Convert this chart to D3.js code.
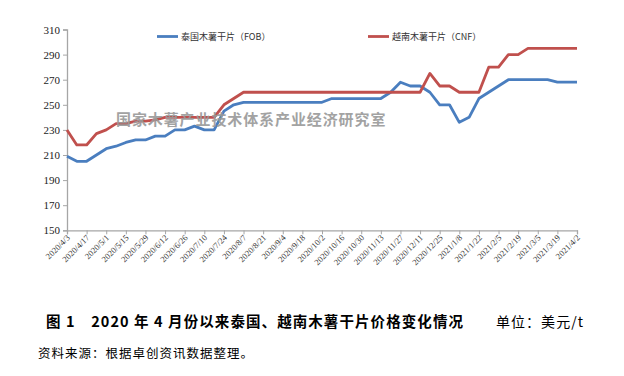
<!DOCTYPE html>
<html>
<head>
<meta charset="utf-8">
<script src="https://cdn.jsdelivr.net/npm/d3@7"></script>
<style>
  body { margin: 0; background: #fff; }
  svg { display: block; }
</style>
</head>
<body>
<svg id="chart" width="624" height="376"></svg>
<script>
// weekly prices, 2020/4/3 .. 2021/4/2 (USD/t)
const startDate = new Date(2020, 3, 3);
const weeks = 53;

const thaiFOB = [209, 205, 205, 210, 215, 217, 220, 222, 222, 225, 225, 230, 230, 233, 230, 230, 245, 250, 252,
  252, 252, 252, 252, 252, 252, 252, 252,
  255, 255, 255, 255, 255, 255,
  260, 268, 265, 265, 260, 250, 250, 236, 240, 255, 260, 265, 270, 270, 270, 270, 270, 268, 268, 268];

const vietCNF = [230, 218, 218, 227, 230, 235, 235, 237, 237, 238, 240, 240, 240, 240, 240, 240, 250, 255, 260,
  260, 260, 260, 260, 260, 260, 260, 260, 260, 260, 260, 260, 260, 260, 260, 260, 260,
  260, 275, 265, 265, 260, 260, 260, 280, 280, 290, 290, 295, 295, 295, 295, 295, 295];

const yTicks = [150, 170, 190, 210, 230, 250, 270, 290, 310];
const seriesNames = ["泰国木薯干片（FOB）", "越南木薯干片（CNF）"];
const colors = ["#4a7ebf", "#c0504d"];

const dates = d3.range(weeks).map(i => d3.timeDay.offset(startDate, i * 7));
const tickDates = dates.filter((d, i) => i % 2 === 0);

const svg = d3.select("#chart");
const margins = { top: 29.5, left: 67, right: 47, bottom: 145.7 };
const width = 624, height = 376;

const x = d3.scaleTime()
  .domain([dates[0], dates[weeks - 1]])
  .range([margins.left, width - margins.right]);

const y = d3.scaleLinear()
  .domain([150, 310])
  .range([height - margins.bottom, margins.top]);

const axisColor = "#a6a6a6";
const serif = "'Liberation Serif', 'Times New Roman', serif";
const cjk = "'Noto Sans CJK SC', sans-serif";

// y axis
const yAxis = svg.append("g")
  .attr("transform", `translate(${margins.left},0)`)
  .call(d3.axisLeft(y).tickValues(yTicks).tickSize(4).tickPadding(3));
yAxis.select(".domain").attr("stroke", axisColor).attr("stroke-width", 1.3);
yAxis.selectAll(".tick line").attr("stroke", axisColor);
yAxis.selectAll(".tick text")
  .attr("font-family", serif)
  .attr("font-size", 11)
  .attr("fill", "#222");

// x axis
const xAxis = svg.append("g")
  .attr("transform", `translate(0,${y(150)})`)
  .call(d3.axisBottom(x).tickValues(tickDates).tickSize(4)
    .tickFormat(d => `${d.getFullYear()}/${d.getMonth() + 1}/${d.getDate()}`));
xAxis.select(".domain").attr("stroke", axisColor).attr("stroke-width", 1.3);
xAxis.selectAll(".tick line").attr("stroke", axisColor);
xAxis.selectAll(".tick text")
  .attr("font-family", serif)
  .attr("font-size", 8.5)
  .attr("fill", "#333")
  .attr("text-anchor", "end")
  .attr("dy", null)
  .attr("y", 0)
  .attr("transform", "translate(3,8) rotate(-45)");

// lines
const line = d3.line()
  .x((d, i) => x(dates[i]))
  .y(d => y(d));

[thaiFOB, vietCNF].forEach((s, k) => {
  svg.append("path")
    .datum(s)
    .attr("fill", "none")
    .attr("stroke", colors[k])
    .attr("stroke-width", 2.8)
    .attr("stroke-linejoin", "round")
    .attr("d", line);
});

// watermark (sits on top of the lines)
svg.append("text")
  .attr("x", 116)
  .attr("y", 125)
  .attr("font-family", cjk)
  .attr("font-weight", "bold")
  .attr("font-size", 15)
  .attr("letter-spacing", 0.9)
  .attr("fill", "#999")
  .attr("opacity", 0.9)
  .text("国家木薯产业技术体系产业经济研究室");

// legend
const legendX = [157, 368];
seriesNames.forEach((name, k) => {
  const g = svg.append("g").attr("transform", `translate(${legendX[k]},36.5)`);
  g.append("line")
    .attr("x1", 0).attr("x2", 21)
    .attr("stroke", colors[k])
    .attr("stroke-width", 2.8);
  g.append("text")
    .attr("x", 24)
    .attr("dy", "0.35em")
    .attr("font-family", cjk)
    .attr("font-size", 9)
    .attr("fill", "#333")
    .text(name);
});

// caption
svg.append("text")
  .attr("x", 46)
  .attr("y", 327)
  .attr("font-family", cjk)
  .attr("font-weight", "bold")
  .attr("font-size", 14.5)
  .attr("fill", "#000")
  .attr("textLength", 417)
  .text("图 1　2020 年 4 月份以来泰国、越南木薯干片价格变化情况");

svg.append("text")
  .attr("x", 496)
  .attr("y", 327)
  .attr("font-family", cjk)
  .attr("font-size", 14)
  .attr("fill", "#000")
  .attr("textLength", 87)
  .text("单位：美元/t");

svg.append("text")
  .attr("x", 38)
  .attr("y", 358)
  .attr("font-family", cjk)
  .attr("font-size", 12.5)
  .attr("fill", "#000")
  .attr("textLength", 215)
  .text("资料来源：根据卓创资讯数据整理。")
</script>
</body>
</html>
